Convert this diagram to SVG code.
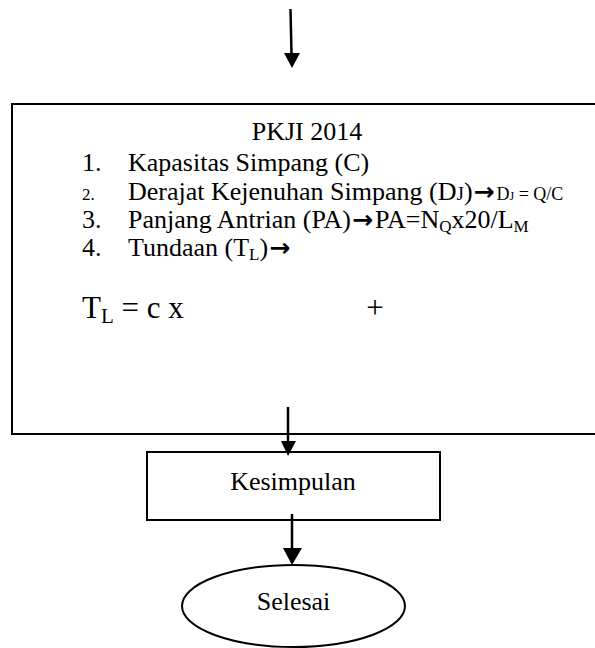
<svg xmlns="http://www.w3.org/2000/svg" width="595" height="648" viewBox="0 0 595 648">
<defs>
<style>
text{font-family:"Liberation Serif","Times New Roman",serif;fill:#000}
.t{font-size:26px}
.sm{font-size:17px}
.ar{font-family:"DejaVu Sans",sans-serif;font-weight:bold;font-size:25px}
.box{fill:#fff;stroke:#000;stroke-width:2}
.ln{stroke:#000;stroke-width:2.5;fill:none}
.hd{fill:#000}
</style>
</defs>
<rect width="595" height="648" fill="#fff"/>
<g id="main-box">
<rect class="box" x="12" y="104" width="600" height="330"/>
<text class="t" x="307" y="140" text-anchor="middle">PKJI 2014</text>
<text class="t" x="82" y="171">1.</text>
<text class="t" x="128" y="171">Kapasitas Simpang (C)</text>
<text class="sm" x="82" y="200">2.</text>
<text class="t" x="128" y="200">Derajat Kejenuhan Simpang (D<tspan font-size="19">J</tspan>)<tspan class="ar" dx="1">→</tspan><tspan font-size="18" dx="2">D<tspan font-size="12">J</tspan> = Q/C</tspan></text>
<text class="t" x="82" y="228">3.</text>
<text class="t" x="128" y="228">Panjang Antrian (PA)<tspan class="ar" dx="1">→</tspan><tspan dx="2">PA=N</tspan><tspan font-size="17" dy="4">Q</tspan><tspan dy="-4">x20/L</tspan><tspan font-size="17" dy="4">M</tspan></text>
<text class="t" x="82" y="256">4.</text>
<text class="t" x="128" y="256">Tundaan (T<tspan font-size="17" dy="4">L</tspan><tspan dy="-4">)</tspan><tspan class="ar" dx="1">→</tspan></text>
<text x="82" y="318" font-size="31">T<tspan font-size="21" dy="5">L</tspan><tspan dy="-5"> = c x</tspan></text>
<text x="375" y="318" font-size="31" text-anchor="middle">+</text>
</g>
<g id="kesimpulan">
<rect class="box" x="147" y="452" width="293" height="68"/>
<text class="t" x="293" y="490" text-anchor="middle">Kesimpulan</text>
</g>
<g id="selesai">
<ellipse class="box" cx="293.5" cy="606" rx="111.5" ry="41"/>
<text class="t" x="293.5" y="610" text-anchor="middle">Selesai</text>
</g>
<g id="connectors">
<line class="ln" x1="290.5" y1="9" x2="291.5" y2="54"/>
<polygon class="hd" points="284,53 300,53 292,68"/>
<line class="ln" x1="288" y1="407" x2="288" y2="442"/>
<polygon class="hd" points="281,441 296,441 288,456"/>
<line class="ln" x1="292" y1="514" x2="292" y2="549"/>
<polygon class="hd" points="283,548 302,548 292,565"/>
</g>
</svg>
